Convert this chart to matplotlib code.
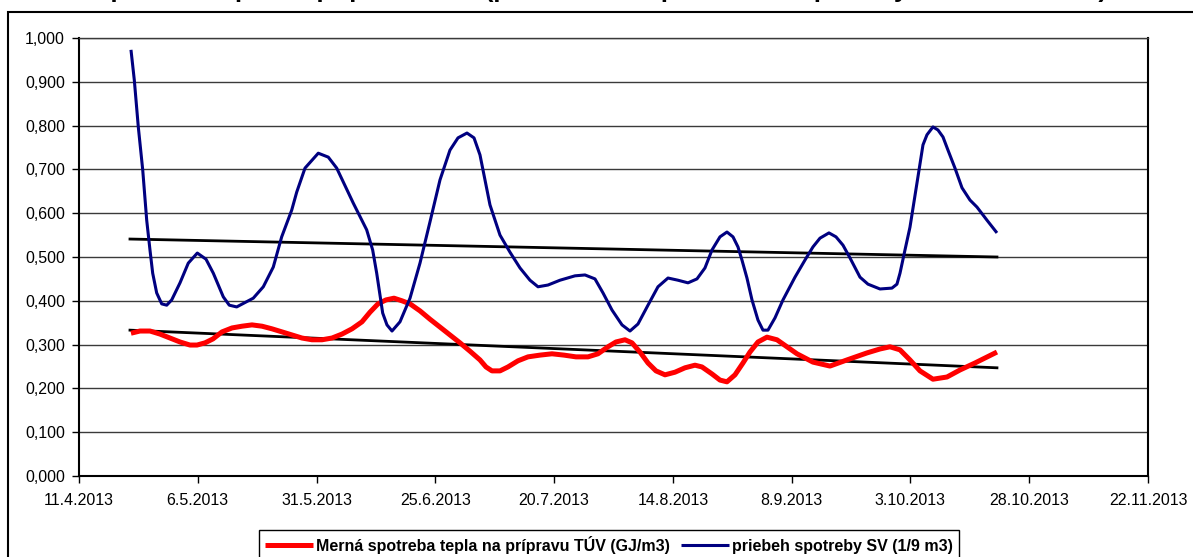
import numpy as np
import pandas as pd
import matplotlib
matplotlib.use("Agg")
import matplotlib.pyplot as plt
import matplotlib.dates as mdates
from matplotlib.patches import Rectangle

plt.rcParams['font.family'] = ['Liberation Sans', 'DejaVu Sans']

START = pd.Timestamp('2013-04-11')

# priebeh spotreby SV (1/9 m3) - days after 11.4.2013, value
sv_days = [10.94, 11.64, 12.48, 13.41, 14.25, 14.94, 15.51, 16.35, 17.41, 18.46,
           19.51, 21.26, 23.00, 24.90, 26.73, 28.27, 30.37, 31.63, 33.19, 36.68,
           38.79, 40.89, 42.66, 44.77, 45.82, 47.57, 50.36, 52.47, 54.24, 57.73,
           60.55, 61.81, 62.66, 63.92, 64.82, 65.88, 67.56, 69.67, 71.77, 73.87,
           75.98, 78.08, 79.77, 81.66, 83.14, 84.40, 85.45, 86.50, 88.61, 90.71,
           92.82, 94.92, 96.61, 98.71, 101.24, 104.39, 106.50, 108.60, 110.29, 112.18,
           114.29, 115.97, 117.65, 119.76, 121.86, 123.97, 126.07, 128.18, 130.07, 131.75,
           133.23, 134.91, 136.38, 137.65, 138.70, 139.54, 140.59, 141.65, 142.91, 143.96,
           145.01, 146.49, 148.17, 150.70, 152.80, 154.48, 155.96, 157.85, 159.33, 160.80,
           162.27, 164.38, 166.06, 168.59, 171.11, 172.16, 172.80, 173.85, 174.90, 176.58,
           177.64, 178.48, 179.74, 180.79, 181.85, 182.90, 184.37, 185.85, 187.53, 189.00,
           191.11, 193.21]
sv_vals = [0.973, 0.904, 0.797, 0.699, 0.584, 0.516, 0.463, 0.418, 0.393, 0.390,
           0.402, 0.441, 0.486, 0.509, 0.495, 0.463, 0.409, 0.390, 0.386, 0.406,
           0.432, 0.477, 0.546, 0.607, 0.648, 0.703, 0.737, 0.728, 0.703, 0.623,
           0.562, 0.516, 0.463, 0.372, 0.345, 0.331, 0.352, 0.406, 0.486, 0.580,
           0.676, 0.744, 0.772, 0.783, 0.772, 0.733, 0.676, 0.619, 0.550, 0.511,
           0.475, 0.447, 0.432, 0.436, 0.447, 0.457, 0.459, 0.450, 0.418, 0.379,
           0.345, 0.331, 0.347, 0.390, 0.432, 0.452, 0.447, 0.441, 0.450, 0.475,
           0.516, 0.546, 0.557, 0.546, 0.523, 0.493, 0.452, 0.402, 0.356, 0.333,
           0.333, 0.361, 0.402, 0.454, 0.493, 0.523, 0.543, 0.555, 0.546, 0.527,
           0.498, 0.454, 0.438, 0.427, 0.429, 0.438, 0.463, 0.516, 0.568, 0.683,
           0.756, 0.779, 0.797, 0.790, 0.774, 0.744, 0.703, 0.658, 0.630, 0.614,
           0.584, 0.555]

# Merná spotreba tepla na prípravu TÚV (GJ/m3)
tuv_days = [10.94, 12.84, 14.94, 17.05, 19.15, 21.26, 23.36, 24.84, 26.52, 28.20,
            30.10, 32.20, 34.31, 36.41, 38.52, 40.62, 42.73, 44.83, 46.93, 49.04,
            51.14, 53.25, 55.35, 57.46, 59.56, 61.25, 62.93, 64.61, 66.30, 67.98,
            69.67, 71.77, 73.87, 75.98, 78.08, 80.19, 82.29, 84.40, 85.66, 86.92,
            88.61, 90.29, 92.40, 94.50, 97.03, 99.55, 102.08, 104.60, 107.13, 109.23,
            111.34, 113.02, 114.92, 116.39, 118.07, 119.76, 121.44, 123.34, 125.44, 127.54,
            129.65, 131.12, 133.23, 134.91, 136.38, 138.07, 139.75, 141.22, 142.91, 144.80,
            146.91, 149.01, 151.12, 154.48, 158.06, 161.64, 165.85, 168.59, 170.69, 172.80,
            174.90, 177.01, 179.74, 182.69, 185.42, 188.58, 193.21]
tuv_vals = [0.326, 0.331, 0.331, 0.324, 0.315, 0.306, 0.299, 0.299, 0.304, 0.313,
            0.329, 0.338, 0.342, 0.345, 0.342, 0.336, 0.329, 0.322, 0.315, 0.311,
            0.311, 0.315, 0.324, 0.336, 0.352, 0.374, 0.393, 0.402, 0.406, 0.400,
            0.393, 0.377, 0.358, 0.340, 0.322, 0.304, 0.285, 0.265, 0.249, 0.240,
            0.240, 0.249, 0.263, 0.272, 0.276, 0.279, 0.276, 0.272, 0.272, 0.279,
            0.295, 0.306, 0.311, 0.304, 0.283, 0.258, 0.240, 0.231, 0.237, 0.247,
            0.253, 0.249, 0.233, 0.219, 0.215, 0.231, 0.258, 0.283, 0.306, 0.317,
            0.311, 0.295, 0.279, 0.260, 0.251, 0.265, 0.281, 0.290, 0.295, 0.288,
            0.265, 0.240, 0.221, 0.226, 0.242, 0.258, 0.283]

# linear trends (black)
trend_days = [10.73, 193.21]
trend_sv = [0.541, 0.500]
trend_tuv = [0.333, 0.247]

x_ticks_days = list(range(0, 226, 25))
y_ticks = np.arange(0, 1.0001, 0.1)

labels = ['Merná spotreba tepla na prípravu TÚV (GJ/m3)', 'priebeh spotreby SV (1/9 m3)']
title = 'Merná spotreba tepla na prípravu TÚV (porovnanie s priebehom spotreby SV v roku 2013)'

base = mdates.date2num(START)


def to_x(days):
    return base + np.asarray(days, dtype=float)


fig = plt.figure(figsize=(11.93, 5.57), dpi=100)
ax = fig.add_axes([79 / 1193, 81 / 557, 1069 / 1193, 438 / 557])

for v in y_ticks[1:]:
    ax.axhline(v, color='#3a3a3a', lw=1.0, zorder=1)

ax.plot(to_x(trend_days), trend_sv, color='black', lw=2.0, zorder=2)
ax.plot(to_x(trend_days), trend_tuv, color='black', lw=2.0, zorder=2)
red, = ax.plot(to_x(tuv_days), tuv_vals, color='#ff0000', lw=3.6,
               solid_joinstyle='round', solid_capstyle='butt', zorder=3)
blue, = ax.plot(to_x(sv_days), sv_vals, color='#000080', lw=2.2,
                solid_joinstyle='round', solid_capstyle='butt', zorder=4)

ax.set_xlim(to_x([0])[0], to_x([225])[0])
ax.set_ylim(0, 1.0)
ax.set_xticks(to_x(x_ticks_days))
ax.set_xticklabels([f"{d.day}.{d.month}.{d.year}" for d in
                    (START + pd.to_timedelta(x_ticks_days, unit='D'))])
ax.set_yticks(y_ticks)
ax.set_yticklabels([f"{v:.3f}".replace('.', ',') for v in y_ticks])

ax.tick_params(axis='x', direction='out', length=5, width=1, pad=7, labelsize=11.5)
ax.tick_params(axis='y', direction='out', length=5, width=1, pad=5, labelsize=11.5)
for s in ['left', 'bottom', 'right']:
    ax.spines[s].set_linewidth(1.5)
ax.spines['top'].set_linewidth(1.0)
ax.spines['top'].set_color('#3a3a3a')

fig.legend([red, blue], labels, loc='upper center', bbox_to_anchor=(609 / 1193, 1 - 530 / 557),
           ncol=2, frameon=True, fancybox=False, edgecolor='black', framealpha=1,
           prop={'weight': 'bold', 'size': 11.5}, handlelength=3.0, handletextpad=0.2,
           columnspacing=0.7, borderpad=0.35, borderaxespad=0)
fig.legends[0].get_frame().set_linewidth(1.0)

fig.add_artist(Rectangle((8 / 1193, -0.1), 1.2, 1.1 - 12 / 557, transform=fig.transFigure,
                         fill=False, edgecolor='black', lw=1.5))
fig.text(0.469, 1 + 2.5 / 557, title, ha='center', va='baseline', fontsize=18.5, fontweight='bold')

fig.savefig('out.png', dpi=100)
